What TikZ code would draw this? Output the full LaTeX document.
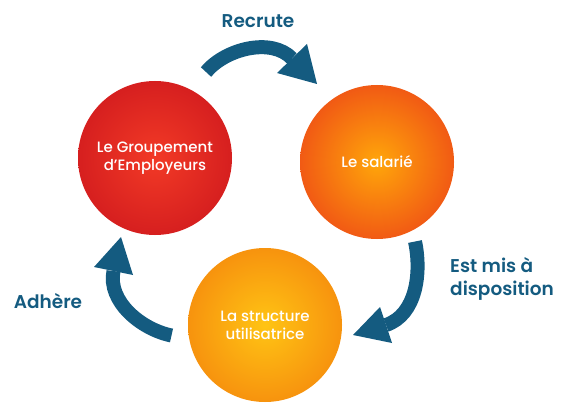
\documentclass[tikz,border=0pt]{standalone}
\usepackage{fontspec}
\setmainfont{Poppins}
\newfontfamily\bubblefont{Poppins Medium}
\newfontfamily\labelfont{Poppins SemiBold}

\definecolor{bluearrow}{HTML}{145B80}
\definecolor{redin}{HTML}{F23A26}
\definecolor{redout}{HTML}{D61F1F}
\definecolor{orangein}{HTML}{FFA60A}
\definecolor{orangeout}{HTML}{F15A14}
\definecolor{yellowin}{HTML}{FFC414}
\definecolor{yellowout}{HTML}{F7930E}

\tikzset{
  bubble/.style={circle, minimum size=154pt, inner sep=0pt, text=white,
    align=center, font=\bubblefont\fontsize{15}{18}\selectfont},
  shaft/.style={draw=bluearrow, line width=14pt},
  arrowhead/.style={fill=bluearrow},
  lbl/.style={text=bluearrow, inner sep=0pt, align=left,
    font=\labelfont\fontsize{18.5}{23}\selectfont}
}

\begin{document}
\begin{tikzpicture}[x=1pt,y=-1pt]

\useasboundingbox (0,0) rectangle (561,417);

% the three partners
\node[bubble, inner color=redin, outer color=redout] (grp) at (155,158) {Le Groupement\\d’Employeurs};
\node[bubble, inner color=orangein, outer color=orangeout] (sal) at (377,162) {Le salarié};
\node[bubble, inner color=yellowin, outer color=yellowout] (struct) at (265,325) {La structure\\utilisatrice};

% top arrow
\coordinate (recA) at (206,72);
\coordinate (recB) at (292,58.5);
\draw[shaft] (recA) .. controls (225.2,48.9) and (271.3,36.9) .. (recB);
\fill[arrowhead] (277,73) -- (317,84) -- (307,44) -- cycle;

% right arrow
\coordinate (disA) at (415,241.5);
\coordinate (disB) at (386,325);
\draw[shaft] (disA) .. controls (421.7,272.9) and (416.4,314.8) .. (disB);
\fill[arrowhead] (380,307) -- (353,335) -- (392,343) -- cycle;

% left arrow
\coordinate (adhA) at (171.5,335.5);
\coordinate (adhB) at (113.5,271);
\draw[shaft] (adhA) .. controls (141.1,329.3) and (107.3,301.4) .. (adhB);
\fill[arrowhead] (94,267) -- (121,237) -- (133,275) -- cycle;

\node[lbl, anchor=base] (rec) at (258,28) {Recrute};
\node[lbl, anchor=base west] (dis) at (450,295) {Est mis à\\disposition};
\node[lbl, anchor=base] (adh) at (48,308) {Adhère};

\end{tikzpicture}
\end{document}
